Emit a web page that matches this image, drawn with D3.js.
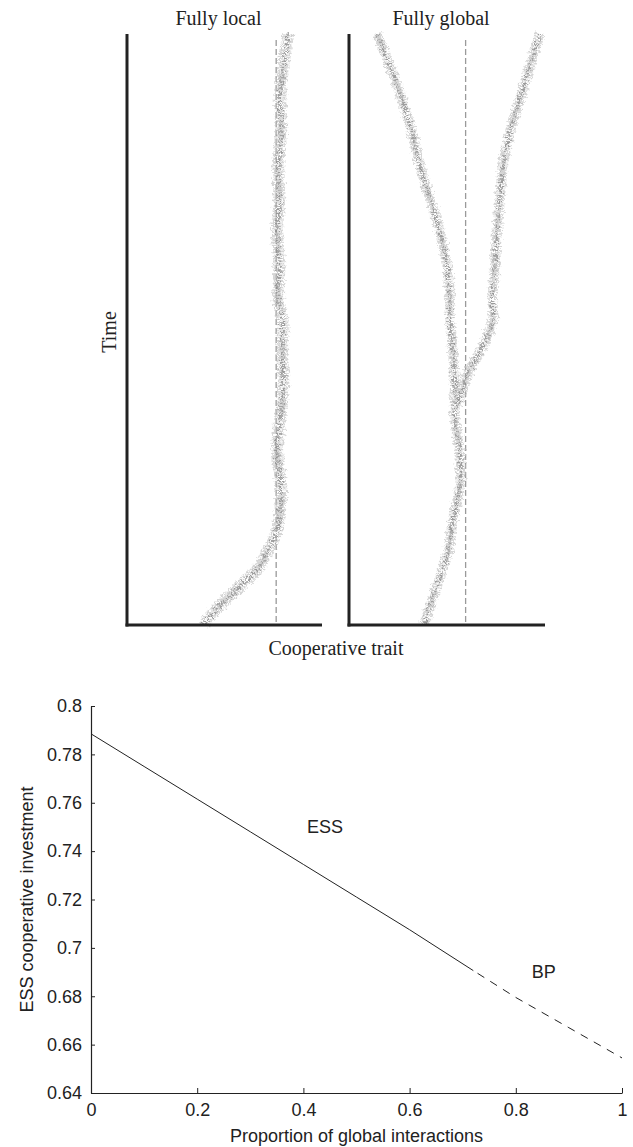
<!DOCTYPE html>
<html>
<head>
<meta charset="utf-8">
<script src="https://cdn.jsdelivr.net/npm/d3@7"></script>
<style>
  body { margin: 0; background: #fff; }
</style>
</head>
<body>
<div id="wrapper"></div>
<script>
// ---- data ----
// top panels: trait value (0..1 across panel) over time (0..100)
const localTime  = [0, 1, 3.9, 6.6, 9.5, 12.4, 15.1, 17.9, 23.5, 29.3, 34.9, 40.4, 46.2, 51.8, 55.2, 60.7, 66.5, 72.1, 77.7, 83.4, 89, 94.6, 100]
const localTrait = [0.393, 0.413, 0.495, 0.582, 0.668, 0.719, 0.76, 0.781, 0.79, 0.77, 0.786, 0.801, 0.796, 0.796, 0.776, 0.781, 0.77, 0.781, 0.776, 0.791, 0.786, 0.801, 0.827]

const globalTrunkTime  = [0, 6.6, 12.4, 17.9, 23.5, 29.3, 34.9, 40.4]
const globalTrunkTrait = [0.383, 0.449, 0.505, 0.531, 0.566, 0.566, 0.541, 0.541]
const globalLowTime  = [40.4, 46.2, 51.8, 55.2, 60.7, 66.5, 72.1, 77.7, 83.4, 89, 94.6, 100]
const globalLowTrait = [0.541, 0.531, 0.515, 0.515, 0.5, 0.464, 0.413, 0.362, 0.321, 0.27, 0.209, 0.143]
const globalHighTime  = [37, 43.3, 46.2, 51.8, 55.2, 60.7, 66.5, 72.1, 77.7, 83.4, 89, 94.6, 100]
const globalHighTrait = [0.55, 0.617, 0.668, 0.735, 0.73, 0.745, 0.755, 0.77, 0.786, 0.821, 0.872, 0.923, 0.974]

const panelTitles = ["Fully local", "Fully global"]
const singularTrait = [0.765, 0.595]

// bottom chart: ESS vs proportion of global interactions
const essX = [0, 0.1, 0.2, 0.3, 0.4, 0.5, 0.6, 0.72]
const essY = [0.7885, 0.775, 0.7615, 0.748, 0.7345, 0.721, 0.7075, 0.6906]
const bpX = [0.72, 0.8, 0.9, 1]
const bpY = [0.6906, 0.6795, 0.667, 0.6545]
const xTicks = [0, 0.2, 0.4, 0.6, 0.8, 1]
const yTicks = [0.64, 0.66, 0.68, 0.7, 0.72, 0.74, 0.76, 0.78, 0.8]

const zip = (a, b) => a.map((v, i) => [v, b[i]])

// ---- canvas ----
const svg = d3.select("#wrapper")
  .append("svg")
  .attr("width", 633)
  .attr("height", 1147)

const serif = "'Liberation Serif', 'Times New Roman', serif"
const sans = "'Liberation Sans', Arial, Helvetica, sans-serif"

// grainy texture for the simulated trait clouds
const defs = svg.append("defs")
const grain = defs.append("filter").attr("id", "grain")
  .attr("x", "-20%").attr("y", "-5%").attr("width", "140%").attr("height", "110%")
grain.append("feTurbulence")
  .attr("type", "fractalNoise").attr("baseFrequency", 0.35)
  .attr("numOctaves", 2).attr("seed", 3).attr("result", "noise")
grain.append("feDisplacementMap")
  .attr("in", "SourceGraphic").attr("in2", "noise")
  .attr("scale", 7).attr("xChannelSelector", "R").attr("yChannelSelector", "G")
  .attr("result", "moved")
grain.append("feGaussianBlur").attr("in", "moved").attr("stdDeviation", 0.6)

// ---- top panels ----
const topBox = { y0: 34, y1: 625 }
const panels = [
  { x0: 127, width: 195, traces: [zip(localTime, localTrait)] },
  { x0: 349, width: 196, traces: [
      zip(globalTrunkTime, globalTrunkTrait),
      zip(globalLowTime, globalLowTrait),
      zip(globalHighTime, globalHighTrait)
  ] }
]

const timeScale = d3.scaleLinear().domain([0, 100]).range([topBox.y1, topBox.y0])

panels.forEach((p, i) => {
  const traitScale = d3.scaleLinear().domain([0, 1]).range([p.x0, p.x0 + p.width])
  const g = svg.append("g")

  const line = d3.line()
    .x(d => traitScale(d[1]))
    .y(d => timeScale(d[0]))
    .curve(d3.curveCatmullRom)

  // singular strategy, dashed
  g.append("line")
    .attr("x1", traitScale(singularTrait[i]))
    .attr("x2", traitScale(singularTrait[i]))
    .attr("y1", topBox.y0 + 6)
    .attr("y2", topBox.y1)
    .attr("stroke", "#9a9a9a")
    .attr("stroke-width", 1.3)
    .attr("stroke-dasharray", "6 3")

  p.traces.forEach(tr => {
    g.append("path")
      .attr("d", line(tr))
      .attr("fill", "none")
      .attr("stroke", "#c4c4c4")
      .attr("stroke-width", i == 0 ? 12 : 10)
      .attr("stroke-dasharray", "2 1.2")
      .attr("opacity", 0.7)
      .attr("filter", "url(#grain)")
    g.append("path")
      .attr("d", line(tr))
      .attr("fill", "none")
      .attr("stroke", "#8c8c8c")
      .attr("stroke-width", i == 0 ? 5 : 4)
      .attr("stroke-dasharray", "1.6 1.8")
      .attr("opacity", 0.8)
      .attr("filter", "url(#grain)")
  })

  // axes: thick left and bottom lines
  g.append("line")
    .attr("x1", p.x0).attr("x2", p.x0)
    .attr("y1", topBox.y0).attr("y2", topBox.y1 + 1.5)
    .attr("stroke", "#222").attr("stroke-width", 3)
  g.append("line")
    .attr("x1", p.x0 - 1.5).attr("x2", p.x0 + p.width)
    .attr("y1", topBox.y1).attr("y2", topBox.y1)
    .attr("stroke", "#222").attr("stroke-width", 3)

  g.append("text")
    .attr("x", p.x0 + p.width / 2 - 6)
    .attr("y", 25)
    .attr("text-anchor", "middle")
    .style("font-family", serif)
    .style("font-size", "20px")
    .attr("fill", "#222")
    .text(panelTitles[i])
})

svg.append("text")
  .attr("transform", "translate(116, 332) rotate(-90)")
  .attr("text-anchor", "middle")
  .style("font-family", serif)
  .style("font-size", "20px")
  .attr("fill", "#222")
  .text("Time")

svg.append("text")
  .attr("x", 336)
  .attr("y", 655)
  .attr("text-anchor", "middle")
  .style("font-family", serif)
  .style("font-size", "20px")
  .attr("fill", "#222")
  .text("Cooperative trait")

// ---- bottom chart ----
const xScale = d3.scaleLinear().domain([0, 1]).range([91, 622])
const yScale = d3.scaleLinear().domain([0.64, 0.8]).range([1093, 706])

const bottom = svg.append("g")
  .style("font-family", sans)

const xAxis = bottom.append("g")
  .attr("transform", `translate(0, ${yScale(0.64)})`)
  .call(d3.axisBottom(xScale).tickValues(xTicks).tickSizeInner(-5).tickSizeOuter(0).tickPadding(10)
    .tickFormat(d => d3.format("~g")(d)))
const yAxis = bottom.append("g")
  .attr("transform", `translate(${xScale(0)}, 0)`)
  .call(d3.axisLeft(yScale).tickValues(yTicks).tickSizeInner(-4).tickSizeOuter(0).tickPadding(9)
    .tickFormat(d => d3.format("~g")(d)))

bottom.selectAll(".domain").attr("stroke", "#222").attr("stroke-width", 1.2)
bottom.selectAll(".tick line").attr("stroke", "#222")
bottom.selectAll(".tick text")
  .style("font-size", "18px")
  .style("font-family", sans)
  .attr("fill", "#222")

const essLine = d3.line().x(d => xScale(d[0])).y(d => yScale(d[1]))
bottom.append("path")
  .attr("d", essLine(zip(essX, essY)))
  .attr("fill", "none")
  .attr("stroke", "#222")
  .attr("stroke-width", 1)
bottom.append("path")
  .attr("d", essLine(zip(bpX, bpY)))
  .attr("fill", "none")
  .attr("stroke", "#222")
  .attr("stroke-width", 1)
  .attr("stroke-dasharray", "8 7")
  .attr("stroke-dashoffset", -5)

bottom.append("text")
  .attr("x", xScale(0.407))
  .attr("y", yScale(0.7475))
  .style("font-size", "18px")
  .attr("fill", "#222")
  .text("ESS")
bottom.append("text")
  .attr("x", xScale(0.83))
  .attr("y", yScale(0.6875))
  .style("font-size", "18px")
  .attr("fill", "#222")
  .text("BP")

bottom.append("text")
  .attr("x", xScale(0.5))
  .attr("y", 1142)
  .attr("text-anchor", "middle")
  .style("font-size", "18px")
  .attr("fill", "#222")
  .text("Proportion of global interactions")

bottom.append("text")
  .attr("transform", `translate(33, ${yScale(0.72)}) rotate(-90)`)
  .attr("text-anchor", "middle")
  .style("font-size", "18px")
  .attr("fill", "#222")
  .text("ESS cooperative investment")
</script>
</body>
</html>
